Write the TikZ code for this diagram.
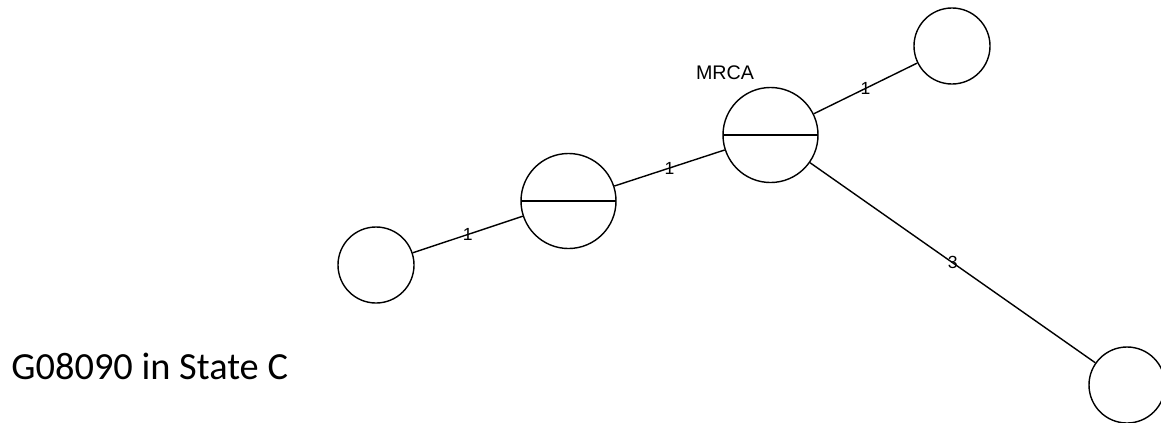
\documentclass[tikz,border=0pt]{standalone}
\usepackage{fontspec}
\setmainfont{Liberation Sans}
\newfontfamily\calibri{Carlito}
\usetikzlibrary{calc, positioning}
\tikzset{state-c/.style = {draw, circle, inner sep=0pt, minimum size=1.9cm}}
\tikzset{state-s/.style = {draw, circle, inner sep=0pt, minimum size=2.375cm,
  path picture={\draw (path picture bounding box.west) -- (path picture bounding box.east);}}}
\tikzset{edge-l/.style = {font=\fontsize{12.5}{14}\selectfont, inner sep=0pt}}
\begin{document}
\begin{tikzpicture}[x=0.025cm, y=-0.025cm, line width=1pt]
  \clip (0,0) rectangle (1161,422);
  \path (376,265) node[state-c] (leaf1) {}
      ++(192.5,-64) node[state-s] (anc1) {}
      ++(202,-66) node[state-s] (mrca) {}
      ++(181.5,-89) node[state-c] (leaf2) {}
        (mrca)
      ++(356.5,250) node[state-c] (leaf3) {};
  \node[font=\fontsize{14}{16}\selectfont] (mrcalab) at ($(mrca)+(-45.5,-62)$) {MRCA};
  \node[anchor=base west, font=\calibri\fontsize{27.3}{32}\selectfont] (title) at (6,379) {G08090 in State C};

  \foreach \i/\o/\l in {leaf1/anc1/1, anc1/mrca/1, mrca/leaf2/1, mrca/leaf3/3}
  {
    \draw (\i) -- node[edge-l] {\l} (\o);
  }
\end{tikzpicture}
\end{document}
